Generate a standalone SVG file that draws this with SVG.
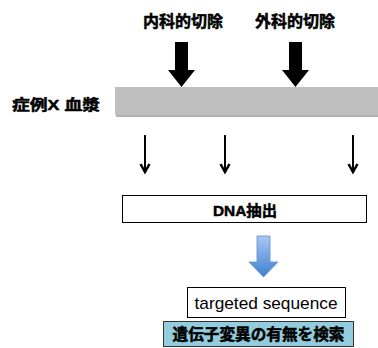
<svg xmlns="http://www.w3.org/2000/svg" width="378" height="348" viewBox="0 0 378 348">
<defs>
<style>
.t{font-family:"Liberation Sans","Noto Sans CJK JP",sans-serif;font-weight:bold;fill:#000;stroke:#000;stroke-width:0.5}
.thin{stroke:#000;stroke-width:2;fill:none}
.head{stroke:#000;stroke-width:2.5;fill:none;stroke-linejoin:miter}
.box{fill:#fff;stroke:#000;stroke-width:1}
</style>
<linearGradient id="bg" x1="0" y1="0" x2="0" y2="1">
<stop offset="0" stop-color="#a9c8f2"/>
<stop offset="1" stop-color="#3f7fd0"/>
</linearGradient>
</defs>
<rect width="378" height="348" fill="#fff"/>
<g id="label-naika"><text class="t" x="183" y="27" font-size="16" text-anchor="middle">内科的切除</text></g>
<g id="label-geka"><text class="t" x="295" y="27" font-size="16" text-anchor="middle">外科的切除</text></g>
<g id="label-case"><text class="t" x="12" y="110" font-size="15" textLength="88" lengthAdjust="spacingAndGlyphs">症例X 血漿</text></g>
<g id="plasma-bar">
<rect x="116" y="89" width="262" height="28" fill="#b0b0b0"/>
<rect x="115" y="87" width="263" height="28" fill="#bfbfbf"/>
</g>
<g id="dna-box">
<rect class="box" x="122.5" y="195.5" width="244" height="27"/>
<text class="t" x="245" y="216" font-size="14.5" text-anchor="middle" textLength="64" lengthAdjust="spacingAndGlyphs">DNA抽出</text>
</g>
<g id="target-box">
<rect class="box" x="187.5" y="287.5" width="158" height="30"/>
<text x="266" y="309" font-family="Liberation Sans, sans-serif" font-size="17" text-anchor="middle" textLength="143" lengthAdjust="spacingAndGlyphs">targeted sequence</text>
</g>
<g id="search-box">
<rect x="163.5" y="321.5" width="190" height="25" fill="#93cddd" stroke="#333" stroke-width="1"/>
<text class="t" x="258.5" y="340" font-size="16" text-anchor="middle" textLength="172" lengthAdjust="spacingAndGlyphs" stroke-width="0.9">遺伝子変異の有無を検索</text>
</g>
<g id="connectors">
<polygon points="175,42 188,42 188,70 195,70 181.5,87 168,70 175,70" fill="#000"/>
<polygon points="289,42 302,42 302,70 309,70 295.5,87 282,70 289,70" fill="#000"/>
<line class="thin" x1="145" y1="135" x2="145" y2="172"/>
<polyline class="head" points="140.5,164 145,172 149.5,164"/>
<line class="thin" x1="225" y1="135" x2="225" y2="172"/>
<polyline class="head" points="220.5,164 225,172 229.5,164"/>
<line class="thin" x1="353" y1="135" x2="353" y2="172"/>
<polyline class="head" points="348.5,164 353,172 357.5,164"/>
<polygon points="257,236 270,236 270,262 278,262 263.5,277 249,262 257,262" fill="url(#bg)" stroke="#5b8fd6" stroke-width="0.8"/>
</g>
</svg>
